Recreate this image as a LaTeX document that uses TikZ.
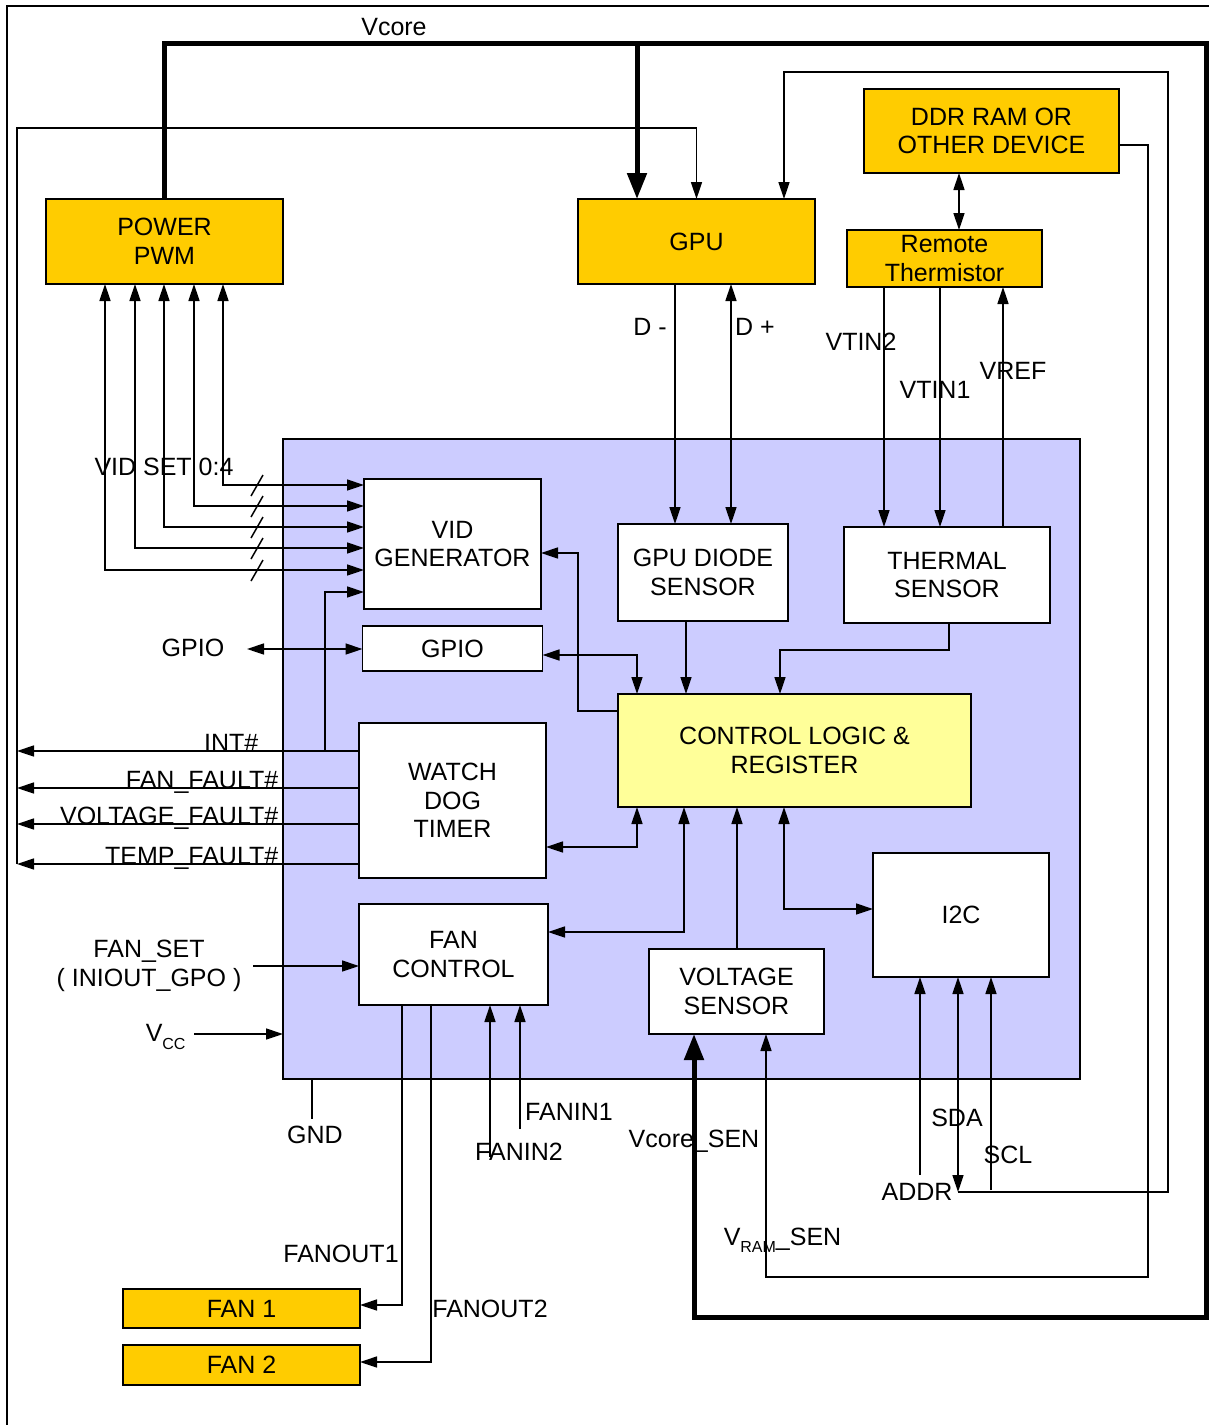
\documentclass[tikz,border=0pt]{standalone}
\usepackage{fontspec}
\setmainfont{Liberation Sans}
\usetikzlibrary{arrows.meta,positioning}
\definecolor{gold}{HTML}{FFCC00}
\definecolor{chipblue}{HTML}{CCCCFF}
\definecolor{ctlyellow}{HTML}{FFFF99}

\begin{document}
\begin{tikzpicture}[x=1pt, y=-1pt, line width=1.5pt,
    every node/.style={font=\fontsize{25}{28.5}\selectfont},
    extbox/.style={rectangle, draw=black, fill=gold, align=center, outer sep=0pt, inner sep=0pt},
    block/.style={rectangle, draw=black, fill=white, align=center, outer sep=0pt, inner sep=0pt},
    lbl/.style={inner sep=0pt},
    >={Triangle[length=17pt,width=11pt]},
    arrow/.style={->},
    darrow/.style={<->},
    vbus/.style={line width=5pt},
    bigtip/.style={-{Triangle[length=26pt,width=19pt]}}]

    \useasboundingbox (0,0) rectangle (1209,1425);
    \draw (7,1425) -- (7,6) -- (1209,6);

    % chip and blocks
    \node (chip) [rectangle, draw=black, fill=chipblue, outer sep=0pt, minimum width=797, minimum height=640] at (681.5,759) {};
    \node (pwm) [extbox, minimum width=237, minimum height=85] at (164.5,241.5) {POWER\\PWM};
    \node (gpu) [extbox, minimum width=237, minimum height=85] at (696.5,241.5) {GPU};
    \node (ddr) [extbox, minimum width=255, minimum height=84] at (991.5,131) {DDR RAM OR\\OTHER DEVICE};
    \node (rth) [extbox, minimum width=195, minimum height=57] at (944.5,258.5) {Remote\\Thermistor};
    \node (vid) [block, minimum width=177, minimum height=130] at (452.5,544) {VID\\GENERATOR};
    \node (gpio) [block, minimum width=180, minimum height=45, below=17pt of vid] {GPIO};
    \node (gds) [block, minimum width=170, minimum height=97] at (703,572.5) {GPU DIODE\\SENSOR};
    \node (ths) [block, minimum width=206, minimum height=96] at (947,575) {THERMAL\\SENSOR};
    \node (ctl) [block, fill=ctlyellow, minimum width=353, minimum height=113] at (794.5,750.5) {CONTROL LOGIC \&\\REGISTER};
    \node (wdt) [block, minimum width=187, minimum height=155] at (452.5,800.5) {WATCH\\DOG\\TIMER};
    \node (fcn) [block, minimum width=189, minimum height=101] at (453.5,954.5) {FAN\\CONTROL};
    \node (vsn) [block, minimum width=175, minimum height=85] at (736.5,991.5) {VOLTAGE\\SENSOR};
    \node (i2c) [block, minimum width=176, minimum height=124] at (961,915) {I2C};
    \node (fan1) [extbox, minimum width=237, minimum height=39] at (241.5,1308.5) {FAN 1};
    \node (fan2) [extbox, minimum width=237, minimum height=40, below=17pt of fan1] {FAN 2};

    % Vcore
    \coordinate (vc) at (637,43);
    \coordinate (vr) at (1206,1317);
    \coordinate (vs) at (694,1317);
    \draw [vbus] (pwm.north) |- (vc);
    \draw [vbus, bigtip] (vc) -- (vc |- gpu.north);
    \draw [vbus, bigtip] (vc) -| (vr) -- (vs) -- (vs |- vsn.south);
    \node (lvcore) [lbl] at (394,27) {Vcore};

    % fault lines and loop to GPU
    \coordinate (lt) at (17,128);
    \coordinate (r1) at (17,751);
    \coordinate (r2) at (17,788);
    \coordinate (r3) at (17,824);
    \coordinate (r4) at (17,864);
    \draw [arrow] (r4) -- (lt) -| (gpu.north);
    \foreach \r in {r1,r2,r3,r4}
        \draw [arrow] (\r -| wdt.west) -- (\r);
    \node (lint) [lbl, anchor=base east] at (259,751) {INT\#};
    \node (lfan) [lbl, anchor=base east] at (279,788) {FAN\_FAULT\#};
    \node (lvolt) [lbl, anchor=base east] at (279,824) {VOLTAGE\_FAULT\#};
    \node (ltemp) [lbl, anchor=base east] at (279,864) {TEMP\_FAULT\#};

    % I2C bus back to GPU
    \coordinate (sda) at (958,1192);
    \coordinate (ib) at (1168,1192);
    \coordinate (it) at (1168,72);
    \coordinate (gt) at (784,72);
    \draw [arrow] (sda) -- (ib) -- (it) -- (gt) -- (gt |- gpu.north);
    \draw [darrow] (sda) -- (sda |- i2c.south);
    \coordinate (scl) at (991,1190);
    \draw [arrow] (scl) -- (scl |- i2c.south);
    \coordinate (addr) at (920,1175);
    \draw [arrow] (addr) -- (addr |- i2c.south);
    \node (lsda) [lbl] at (957,1118) {SDA};
    \node (lscl) [lbl] at (1008,1155) {SCL};
    \node (laddr) [lbl] at (917,1192) {ADDR};

    % DDR
    \coordinate (dd) at (1148,145);
    \coordinate (db) at (1148,1277);
    \coordinate (dv) at (766,1277);
    \draw [arrow] (dd -| ddr.east) -- (dd) -- (db) -- (dv) -- (dv |- vsn.south);
    \coordinate (dx) at (959,200);
    \draw [darrow] (dx |- ddr.south) -- (dx |- rth.north);
    \node (lvram) [lbl, anchor=base west] at (723,1245) {V\raisebox{-7pt}{\fontsize{16}{18}\selectfont RAM}\_SEN};
    \node (lvsen) [lbl] at (694,1141) {Vcore\_SEN};

    % VID set lines
    \foreach \cx/\ry in {223/485,194/506,164/527,135/548,105/570} {
        \coordinate (vd) at (\cx,\ry);
        \draw [darrow] (vd |- pwm.south) |- (vd -| vid.west);
        \draw (251,\ry+11) -- (263,\ry-10);
    }
    \node (lvid) [lbl] at (164,467) {VID SET 0:4};

    \coordinate (wv) at (325,751);
    \coordinate (wu) at (325,592);
    \draw [arrow] (wv) -- (wu) -- (wu -| vid.west);

    % GPIO
    \coordinate (gx) at (247,649);
    \draw [darrow] (gx) -- (gx -| gpio.west);
    \node (lgpio) [lbl] at (193,648) {GPIO};

    % GPU diode
    \coordinate (dm) at (675,400);
    \coordinate (dp) at (731,400);
    \draw [arrow] (dm |- gpu.south) -- (dm |- gds.north);
    \draw [darrow] (dp |- gpu.south) -- (dp |- gds.north);
    \node (ldm) [lbl] at (650,327) {D -};
    \node (ldp) [lbl] at (755,327) {D +};

    % thermistor
    \coordinate (t2) at (884,400);
    \coordinate (t1) at (940,400);
    \coordinate (tr) at (1003,400);
    \draw [arrow] (t2 |- rth.south) -- (t2 |- ths.north);
    \draw [arrow] (t1 |- rth.south) -- (t1 |- ths.north);
    \draw [arrow] (tr |- ths.north) -- (tr |- rth.south);
    \node (lvt2) [lbl] at (861,342) {VTIN2};
    \node (lvt1) [lbl] at (935,390) {VTIN1};
    \node (lvref) [lbl] at (1013,371) {VREF};

    % control logic links
    \coordinate (gc) at (686,650);
    \draw [arrow] (gc |- gds.south) -- (gc |- ctl.north);
    \coordinate (tb) at (949,650);
    \coordinate (tc) at (780,650);
    \draw [arrow] (tb |- ths.south) -- (tb) -- (tc) -- (tc |- ctl.north);
    \coordinate (pc) at (637,655);
    \draw [darrow] (pc -| gpio.east) -- (pc) -- (pc |- ctl.north);
    \coordinate (cl) at (578,711);
    \coordinate (cu) at (578,553);
    \draw [arrow] (cl -| ctl.west) -- (cl) -- (cu) -- (cu -| vid.east);
    \coordinate (wc) at (637,847);
    \draw [darrow] (wc -| wdt.east) -- (wc) -- (wc |- ctl.south);
    \coordinate (fc) at (684,932);
    \draw [darrow] (fc -| fcn.east) -- (fc) -- (fc |- ctl.south);
    \coordinate (vu) at (737,900);
    \draw [arrow] (vu |- vsn.north) -- (vu |- ctl.south);
    \coordinate (ci) at (784,909);
    \draw [darrow] (ci -| i2c.west) -- (ci) -- (ci |- ctl.south);

    % fan set, vcc, gnd
    \coordinate (fs) at (253,966);
    \draw [arrow] (fs) -- (fs -| fcn.west);
    \node (lfs) [lbl, align=center] at (149,966) {FAN\_SET\\( INIOUT\_GPO )};
    \coordinate (vcc) at (194,1034);
    \draw [arrow] (vcc) -- (vcc -| chip.west);
    \node (lvcc) [lbl, anchor=base west] at (145,1041) {V\raisebox{-8pt}{\fontsize{16}{18}\selectfont CC}};
    \coordinate (gnd) at (312,1119);
    \draw (gnd |- chip.south) -- (gnd);
    \node (lgnd) [lbl] at (315,1135) {GND};

    % fans
    \coordinate (fo1) at (402,1305);
    \coordinate (fo2) at (431,1362);
    \draw [arrow] (fo1 |- fcn.south) -- (fo1) -- (fo1 -| fan1.east);
    \draw [arrow] (fo2 |- fcn.south) -- (fo2) -- (fo2 -| fan2.east);
    \coordinate (fi1) at (520,1129);
    \coordinate (fi2) at (490,1157);
    \draw [arrow] (fi1) -- (fi1 |- fcn.south);
    \draw [arrow] (fi2) -- (fi2 |- fcn.south);
    \node (lfi1) [lbl] at (569,1112) {FANIN1};
    \node (lfi2) [lbl] at (519,1152) {FANIN2};
    \node (lfo1) [lbl] at (341,1254) {FANOUT1};
    \node (lfo2) [lbl] at (490,1309) {FANOUT2};

\end{tikzpicture}
\end{document}
